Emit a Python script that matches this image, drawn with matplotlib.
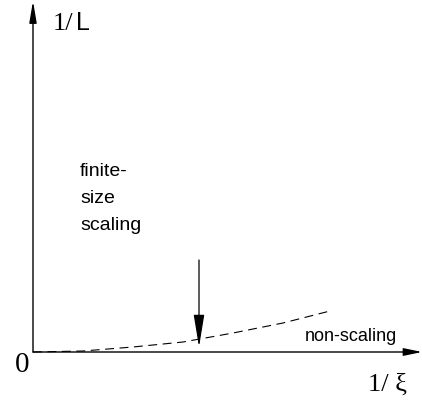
import matplotlib
matplotlib.use("Agg")
import matplotlib.pyplot as plt
from matplotlib.patches import FancyArrowPatch

# Data (units: arbitrary, origin at (0,0))
curve_x = [0, 50, 100, 150, 200, 250, 297]
curve_y = [0, 1, 5, 10, 19, 29, 41]
marker_x = 166           # position of the crossover arrow
marker_top = 92
marker_tip = 5
label_fss = ["finite-", "size", "scaling"]
label_ns = "non-scaling"

fig = plt.figure(figsize=(4.22, 4.02), dpi=100)
ax = fig.add_axes([0, 0, 1, 1])
ax.set_xlim(-33, 389)
ax.set_ylim(-49, 353)
ax.axis("off")

def arrow(p0, p1, hl, hw, lw):
    a = FancyArrowPatch(p0, p1, arrowstyle=f"-|>,head_length={hl},head_width={hw}",
                        mutation_scale=1, lw=lw, color="black", shrinkA=0, shrinkB=0,
                        clip_on=False)
    ax.add_patch(a)

# axes
arrow((0, 0), (0, 351), 13, 2.2, 1.0)
arrow((0, 0), (389, 0), 11, 2.3, 1.0)

# dashed curve
ax.plot(curve_x, curve_y, color="black", lw=0.8, ls=(0, (8, 5)))

# crossover arrow
arrow((marker_x, marker_top), (marker_x, marker_tip), 20, 3.3, 0.9)

sans = "Liberation Sans"
serif = "Liberation Serif"

# labels
for i, t in enumerate(label_fss):
    ax.text(47, 353 - 176.5 - i * 26.7, t, fontsize=14, family=sans,
            ha="left", va="baseline")
ax.text(272, 353 - 341.5, label_ns, fontsize=13, family=sans, ha="left", va="baseline")

ax.text(20, 353 - 30.5, "1/", fontsize=19, family=serif, ha="left", va="baseline")
ax.text(43, 353 - 30.5, "L", fontsize=18, family=sans, ha="left", va="baseline")

ax.text(-18.5, 353 - 372.5, "0", fontsize=21, family=serif, ha="left", va="baseline")
ax.text(335, 353 - 391, "1/ \u03be", fontsize=19, family=serif, ha="left", va="baseline")

fig.savefig("out.png", dpi=100)
